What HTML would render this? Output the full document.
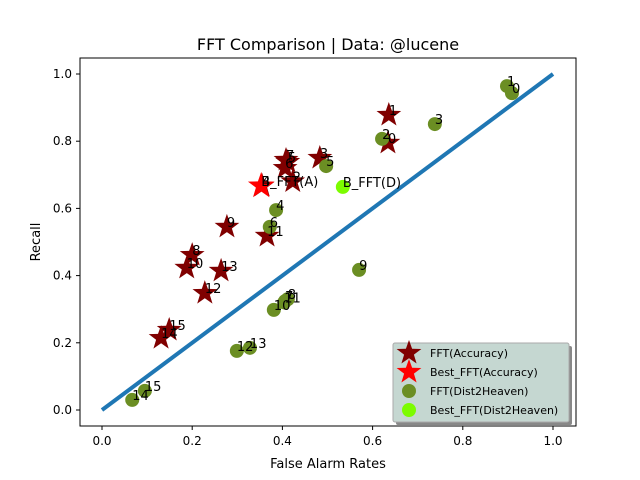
<!DOCTYPE html>
<html><head><meta charset="utf-8"><style>
body{margin:0;background:#fff;}
svg{display:block;font-family:"DejaVu Sans","Liberation Sans",sans-serif;}
</style></head><body>
<svg id="chart" width="640" height="480">
<rect x="0" y="0" width="640" height="480" fill="#fff"/>
<text x="328" y="50" font-size="16" text-anchor="middle">FFT Comparison |  Data: @lucene</text>
<text x="328" y="468" font-size="13" text-anchor="middle">False Alarm Rates</text>
<text x="40" y="242" font-size="13" text-anchor="middle" transform="rotate(-90 40 242)">Recall</text>
<g id="plot"></g>
<rect x="80" y="58" width="496" height="368" fill="none" stroke="#000" stroke-width="1"/>
</svg>
<script>
const xTicks=[0,0.2,0.4,0.6,0.8,1.0];
const yTicks=[0,0.2,0.4,0.6,0.8,1.0];
const accX=[0.634,0.636,0.423,0.483,0.355,0.412,0.406,0.408,0.2,0.277,0.188,0.366,0.228,0.264,0.131,0.149];
const accY=[0.795,0.878,0.68,0.75,0.667,0.738,0.72,0.744,0.461,0.545,0.423,0.518,0.348,0.414,0.214,0.238];
const d2hX=[0.909,0.898,0.621,0.738,0.386,0.497,0.372,0.406,0.412,0.57,0.381,0.404,0.299,0.328,0.067,0.095];
const d2hY=[0.943,0.964,0.807,0.851,0.595,0.726,0.545,0.324,0.33,0.417,0.298,0.32,0.176,0.185,0.03,0.057];
const bestAcc=[0.353,0.667];
const bestD2h=[0.534,0.664];
const diag=[0,1];
const NS='http://www.w3.org/2000/svg';
const sx=v=>102+451*v, sy=v=>410-336*v;
const g=document.getElementById('plot');
function mk(t,a){const e=document.createElementNS(NS,t);for(const k in a)e.setAttribute(k,a[k]);g.appendChild(e);return e;}
function star(cx,cy,R){let p=[];for(let i=0;i<10;i++){const r=i%2?R*0.4:R;const a=-Math.PI/2+i*Math.PI/5;p.push((cx+r*Math.cos(a)).toFixed(1)+','+(cy+r*Math.sin(a)).toFixed(1));}return p.join(' ');}
xTicks.forEach(v=>{
 const t=mk('line',{x1:sx(v),x2:sx(v),y1:426,y2:430,stroke:'#000'});
 
 
 const l=mk('text',{x:sx(v),y:445,'font-size':12,'text-anchor':'middle'});l.textContent=v.toFixed(1);
 
 
});
yTicks.forEach(v=>{
 const t=mk('line',{x1:76,x2:80,y1:sy(v),y2:sy(v),stroke:'#000'});
 
 
 const l=mk('text',{x:72,y:sy(v)+4,'font-size':12,'text-anchor':'end'});l.textContent=v.toFixed(1);
 
 
});
const dl=mk('line',{x1:sx(diag[0]),y1:sy(diag[0]),x2:sx(diag[1]),y2:sy(diag[1]),stroke:'#1f77b4','stroke-width':4});


accX.forEach((x,i)=>{
 const s=mk('polygon',{points:star(sx(x),sy(accY[i]),13),fill:'#800000'});
 
 
});
const ba=mk('polygon',{points:star(sx(bestAcc[0]),sy(bestAcc[1]),14),fill:'#ff0000'});


d2hX.forEach((x,i)=>{
 const c=mk('circle',{cx:sx(x),cy:sy(d2hY[i]),r:7,fill:'#6b8e23'});
 
 
});
const bd=mk('circle',{cx:sx(bestD2h[0]),cy:sy(bestD2h[1]),r:7,fill:'#7cfc00'});


accX.forEach((x,i)=>{
 const l=mk('text',{x:sx(x),y:sy(accY[i]),'font-size':13});l.textContent=i;
 
 
});
d2hX.forEach((x,i)=>{
 const l=mk('text',{x:sx(x),y:sy(d2hY[i]),'font-size':13});l.textContent=i;
 
 
});
const la=mk('text',{x:sx(bestAcc[0]),y:sy(bestAcc[1]),'font-size':13});la.textContent='B_FFT(A)';


const ld=mk('text',{x:sx(bestD2h[0]),y:sy(bestD2h[1]),'font-size':13});ld.textContent='B_FFT(D)';


// legend
const lg=document.createElementNS(NS,'g');


document.getElementById('chart').appendChild(lg);
function lm(t,a){const e=document.createElementNS(NS,t);for(const k in a)e.setAttribute(k,a[k]);lg.appendChild(e);return e;}
lm('rect',{x:396,y:346,width:176,height:79,fill:'#888',rx:2});
lm('rect',{x:393,y:343,width:176,height:79,fill:'#c5d7d1',stroke:'#aaa',rx:2});
const items=[['FFT(Accuracy)','star','#800000'],['Best_FFT(Accuracy)','star','#ff0000'],['FFT(Dist2Heaven)','c','#6b8e23'],['Best_FFT(Dist2Heaven)','c','#7cfc00']];
items.forEach((it,i)=>{
 const y=352+i*19;
 if(it[1]=='star') lm('polygon',{points:star(409,y+1,13),fill:it[2]});
 else lm('circle',{cx:409,cy:y+1,r:7,fill:it[2]});
 const t=lm('text',{x:430,y:y+5,'font-size':11});t.textContent=it[0];
 
 
});
</script>
</body></html>
